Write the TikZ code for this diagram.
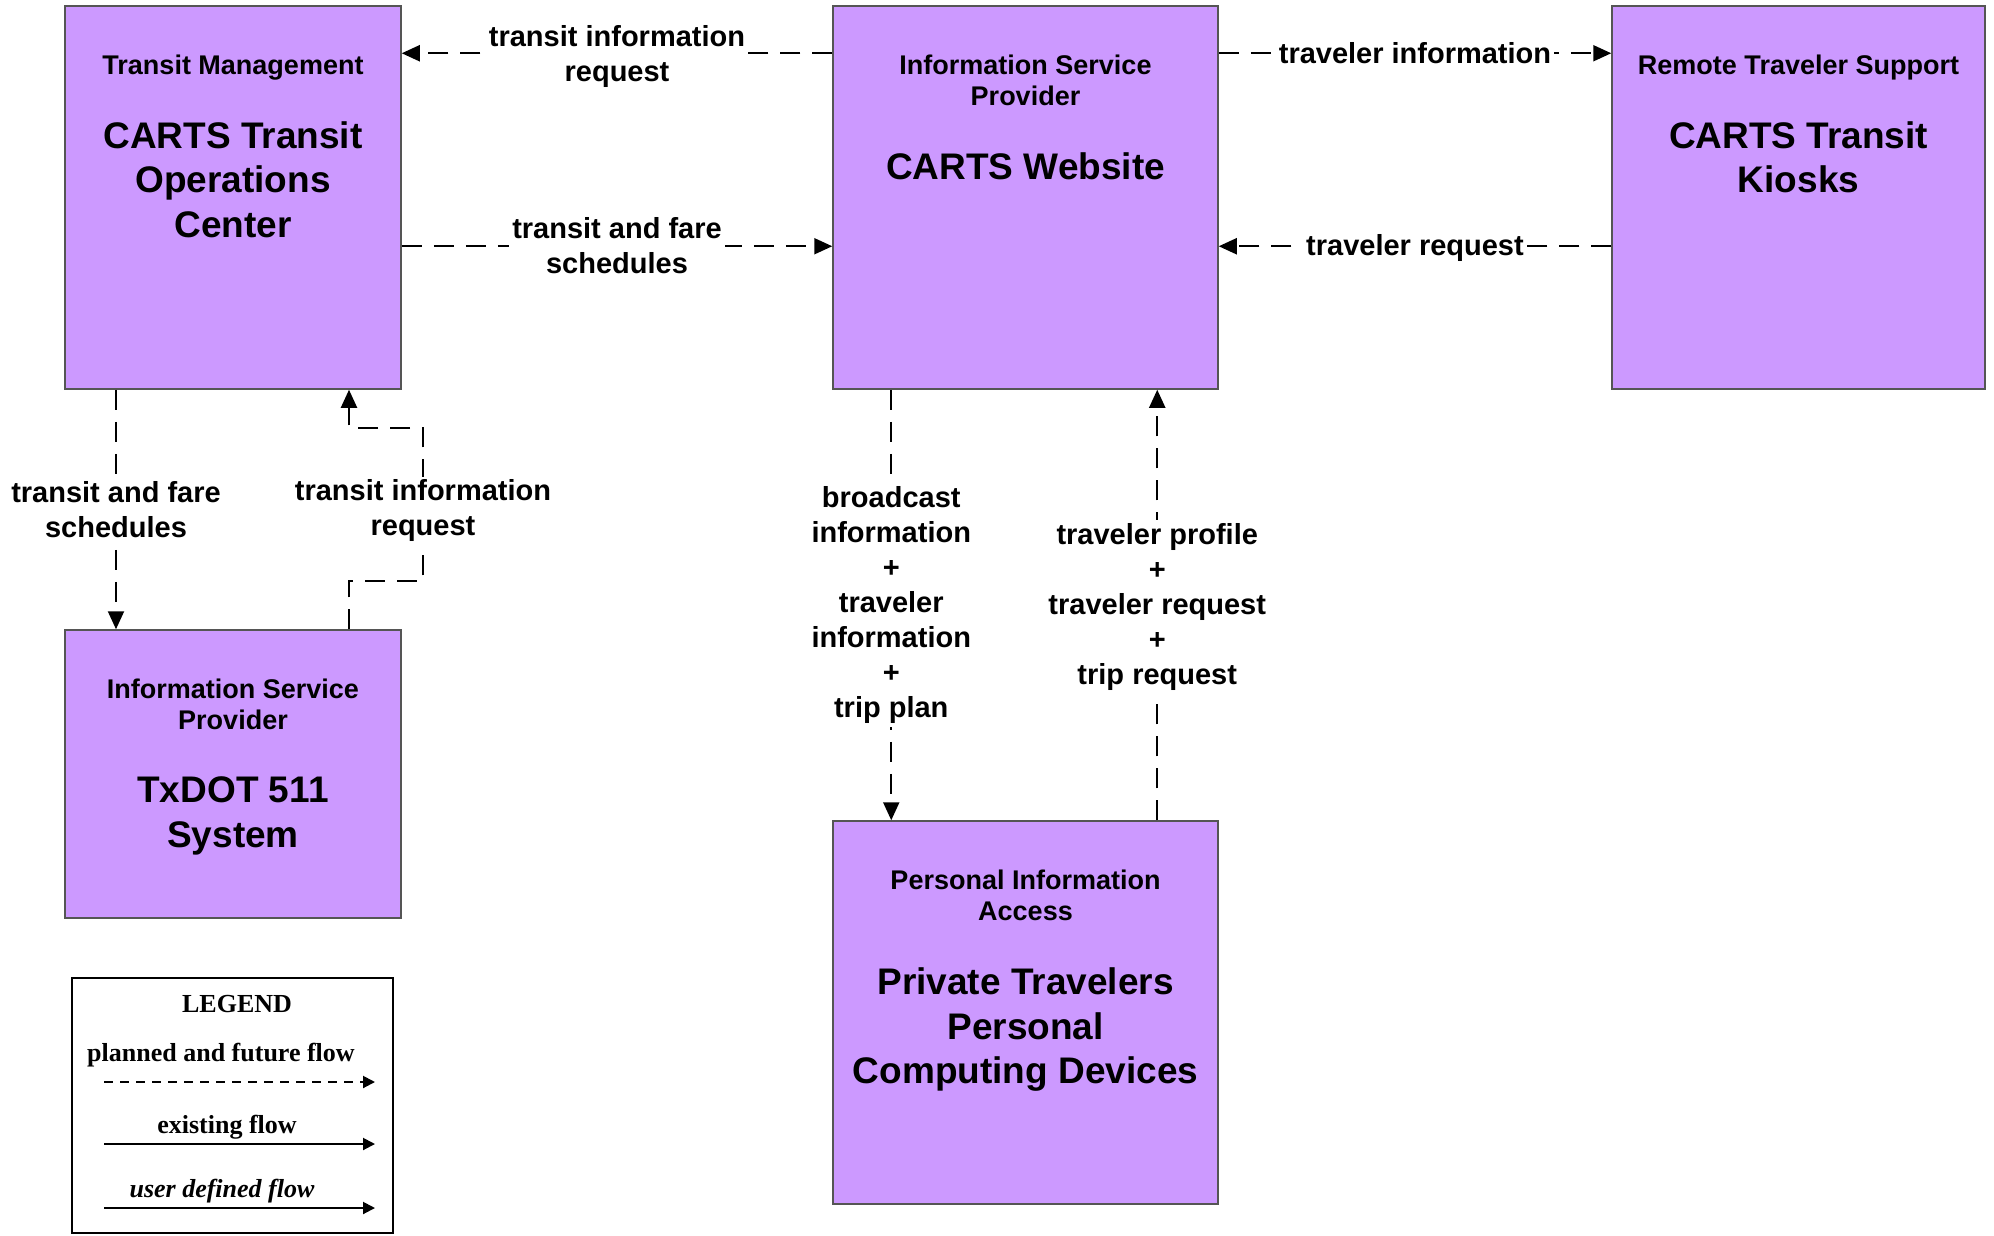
\documentclass[tikz,border=0pt]{standalone}
\usepackage{fontspec}
\setmainfont{Liberation Sans}
\newfontfamily\legendfont{Liberation Serif}
\usetikzlibrary{positioning,arrows.meta}

\definecolor{boxfill}{RGB}{204,153,255}
\definecolor{boxline}{RGB}{85,85,85}

\begin{document}
\begin{tikzpicture}[x=1pt, y=-1pt,
    sysbox/.style={draw=boxline, fill=boxfill, line width=1.5pt, inner sep=0pt},
    roletext/.style={anchor=north, align=center, inner sep=0pt, font=\fontsize{27}{31.5}\selectfont\bfseries},
    nametext/.style={anchor=north, align=center, inner sep=0pt, font=\fontsize{37}{44.5}\selectfont\bfseries},
    flow/.style={line width=2pt, dash pattern=on 20pt off 12pt, -{Triangle[length=18pt,width=16pt]}},
    flowlabel/.style={fill=white, align=center, inner sep=3pt, font=\fontsize{29}{35}\selectfont\bfseries},
    legendtext/.style={font=\legendfont\fontsize{26}{30}\selectfont\bfseries},
    legendflow/.style={line width=2pt, -{Triangle[length=12pt,width=12pt]}}
]
    % Fix the page size
    \useasboundingbox (0,0) rectangle (1994,1235);

    % Define box height
    \def\boxheight{383}

    % Draw the system boxes
    \node[sysbox, minimum width=336, minimum height=\boxheight] (tmc) at (233,197.5) {};
    \node[sysbox, minimum width=385, minimum height=\boxheight] (web) at (1025.5,197.5) {};
    \node[sysbox, minimum width=373, minimum height=\boxheight] (rts) at (1798.5,197.5) {};
    \node[sysbox, minimum width=336, minimum height=288] (txdot) at (233,774) {};
    \node[sysbox, minimum width=385, minimum height=\boxheight] (pia) at (1025.5,1012.5) {};

    % Put the class and the name in each box
    \foreach \sys/\sysrole/\sysname/\gap in {
        tmc/{Transit Management}/{CARTS Transit\\Operations\\Center}/116,
        web/{Information Service\\Provider}/{CARTS Website}/147.5,
        rts/{Remote Traveler Support}/{CARTS Transit\\Kiosks}/116,
        txdot/{Information Service\\Provider}/{TxDOT 511\\System}/147.5,
        pia/{Personal Information\\Access}/{Private Travelers\\Personal\\Computing Devices}/147.5
    } {
        \node[roletext] (\sys-role) at ([yshift=-49pt]\sys.north) {\sysrole};
        \node[nametext] (\sys-name) at ([yshift=-\gap pt]\sys.north) {\sysname};
    }

    % Flows along the top row
    \draw[flow] ([yshift=-48pt]web.north west) -- node[flowlabel, yshift=-3pt] (f1) {transit information\\request} ([yshift=-48pt]tmc.north east);
    \draw[flow] ([yshift=-241pt]tmc.north east) -- node[flowlabel, yshift=1pt] (f2) {transit and fare\\schedules} ([yshift=-241pt]web.north west);
    \draw[flow] ([yshift=-48pt]web.north east) -- node[flowlabel] (f3) {traveler information} ([yshift=-48pt]rts.north west);
    \draw[flow] ([yshift=-241pt]rts.north west) -- node[flowlabel, yshift=-2pt] (f4) {traveler request} ([yshift=-241pt]web.north east);

    % Flows between transit management and TxDOT
    \draw[flow] ([xshift=-117pt]tmc.south) -- node[flowlabel] (f5) {transit and fare\\schedules} ([xshift=-117pt]txdot.north);
    \draw[flow] ([xshift=116pt]txdot.north) -- ++(0,-48) -- ++(74,0)
        -- node[flowlabel, yshift=-6pt] (f6) {transit information\\request} ++(0,-153) -- ++(-74,0) -- ([xshift=116pt]tmc.south);

    % Flows between the website and personal devices
    \draw[flow] ([xshift=59pt]web.south west) -- node[flowlabel] (f7) {broadcast\\information\\+\\traveler\\information\\+\\trip plan} ([xshift=59pt]pia.north west);
    \draw[flow] ([xshift=325pt]pia.north west) -- node[flowlabel, yshift=-2pt] (f8) {traveler profile\\+\\traveler request\\+\\trip request} ([xshift=325pt]web.south west);

    % Legend
    \node[draw, line width=2.5pt, inner sep=0pt, minimum width=321, minimum height=255] (legend) at (232.5,1105.5) {};
    \node[legendtext] (legtitle) at (237,1004) {LEGEND};
    \node[legendtext] (legplanned) at (221,1055) {planned and future flow};
    \draw[legendflow, dash pattern=on 9pt off 7pt] (104,1082) -- (375,1082);
    \node[legendtext] (legexist) at (227,1127) {existing flow};
    \draw[legendflow] (104,1144) -- (375,1144);
    \node[legendtext] (leguser) at (222,1191) {\itshape user defined flow};
    \draw[legendflow] (104,1208) -- (375,1208);
\end{tikzpicture}
\end{document}
